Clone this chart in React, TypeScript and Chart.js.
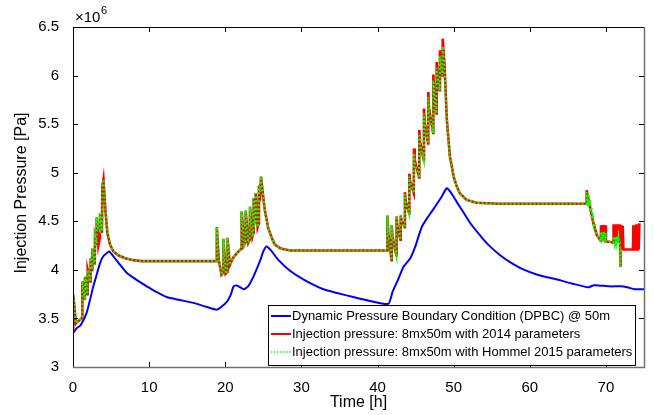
import React, { useEffect, useRef } from "react";
import { Chart, registerables } from "chart.js";

Chart.register(...registerables);

// ---- axis ticks ----
const xTickValues = [0, 10, 20, 30, 40, 50, 60, 70];
const yTickValues = [3, 3.5, 4, 4.5, 5, 5.5, 6, 6.5];

// ---- legend labels ----
const seriesLabels = [
  "Dynamic Pressure Boundary Condition (DPBC) @ 50m",
  "Injection pressure: 8mx50m with 2014 parameters",
  "Injection pressure: 8mx50m with Hommel 2015 parameters",
];

// ---- DPBC (blue) ----
const dpbcTime = [0, 0.5, 1.0, 1.8, 2.67, 3.0, 3.55, 3.98, 4.4, 4.73, 5.2, 6.0, 7.05, 8.3, 9.7, 11.0, 12.3, 14.0, 15.8, 17.5, 18.9, 19.5, 20.2, 20.7, 21.1, 21.5, 22.0, 22.4, 23.0, 23.7, 24.6, 25.0, 25.4, 26.0, 27.0, 28.5, 30.3, 32.9, 34.8, 36.8, 39.0, 41.4, 42.0, 42.7, 43.4, 44.3, 45.0, 45.8, 46.5, 47.3, 48.4, 49.1, 49.6, 50.4, 51.3, 52.2, 53.3, 54.4, 56.1, 57.4, 59, 61, 63.6, 65.5, 67.7, 68.3, 69.0, 70.5, 71.9, 72.8, 73.8, 75];
const dpbcPressure = [3.35, 3.40, 3.43, 3.56, 3.83, 3.92, 4.07, 4.14, 4.17, 4.19, 4.15, 4.07, 3.97, 3.90, 3.83, 3.77, 3.72, 3.69, 3.66, 3.62, 3.59, 3.62, 3.67, 3.74, 3.83, 3.84, 3.82, 3.80, 3.83, 3.93, 4.10, 4.19, 4.24, 4.20, 4.10, 3.99, 3.90, 3.80, 3.76, 3.72, 3.68, 3.65, 3.78, 3.90, 4.03, 4.12, 4.25, 4.44, 4.53, 4.62, 4.75, 4.84, 4.80, 4.70, 4.59, 4.48, 4.37, 4.27, 4.15, 4.08, 4.01, 3.95, 3.90, 3.86, 3.82, 3.84, 3.84, 3.83, 3.83, 3.82, 3.80, 3.80];

// ---- injection 2014 (red) ----
const red1Time = [0, 0.04, 0.39, 0.5, 1.14, 1.2, 1.23, 1.56, 1.58, 1.9, 1.93, 2.28, 2.32, 2.51, 2.54, 2.86, 2.89, 3.09, 3.11, 3.33, 3.53, 3.55, 3.8, 3.85, 4.0, 4.25, 4.51, 4.86, 5.3, 5.95, 6.83, 7.93, 9.0, 18.87];
const red1Pressure = [3.38, 3.74, 3.45, 3.46, 3.50, 3.52, 3.88, 3.69, 3.93, 3.75, 4.00, 3.88, 4.12, 4.00, 4.22, 4.05, 4.34, 4.27, 4.54, 4.25, 4.33, 4.58, 4.38, 4.85, 4.93, 4.62, 4.38, 4.26, 4.19, 4.15, 4.12, 4.10, 4.09, 4.09];
const ramp2Time = [18.89, 19.15, 19.5, 19.73, 19.76, 20.05, 20.27, 20.3, 20.6, 21.0, 21.5, 22.12, 22.15, 22.5, 22.65, 22.68, 23.03, 23.22, 23.25, 23.56, 23.7, 23.73, 23.9, 23.97, 24.0, 24.25, 24.4, 24.43, 24.6, 24.7, 25.0, 25.22, 25.65, 26.1, 26.5, 27.3, 28.5, 41.27];
const ramp2Pressure = [4.44, 4.10, 3.95, 3.97, 4.32, 3.96, 3.98, 4.33, 4.05, 4.12, 4.17, 4.22, 4.60, 4.26, 4.29, 4.61, 4.28, 4.31, 4.65, 4.34, 4.38, 4.74, 4.50, 4.52, 4.79, 4.44, 4.48, 4.87, 4.80, 4.96, 4.74, 4.60, 4.43, 4.33, 4.26, 4.22, 4.20, 4.20];
const ramp3Time = [41.3, 41.4, 41.84, 41.86, 41.96, 42.47, 42.5, 42.6, 43.01, 43.04, 43.14, 43.57, 43.6, 43.7, 44.15, 44.18, 44.28, 44.76, 44.79, 44.89, 45.46, 45.49, 45.59, 46.07, 46.1, 46.2, 46.64, 46.67, 46.77, 47.30, 47.33, 47.43, 47.74, 47.77, 47.87, 48.17, 48.2, 48.3, 48.53, 48.56, 48.8, 49.1, 49.5, 50.0, 50.4, 50.8, 51.7, 53.0, 56.0, 67.45];
const red3Pressure = [4.56, 4.38, 4.10, 4.46, 4.34, 4.15, 4.55, 4.45, 4.31, 4.56, 4.51, 4.44, 4.80, 4.71, 4.58, 4.99, 4.91, 4.79, 5.25, 5.13, 4.95, 5.44, 5.32, 5.13, 5.66, 5.52, 5.30, 5.83, 5.66, 5.41, 6.01, 5.85, 5.61, 6.14, 6.02, 5.85, 6.26, 6.16, 6.00, 6.38, 6.10, 5.55, 5.17, 4.96, 4.86, 4.79, 4.72, 4.69, 4.68, 4.68];
const red4Time = [67.47, 67.83, 68.13, 68.35, 68.79, 69.22, 69.3, 69.35, 69.45, 69.55, 69.65, 69.75, 69.85, 69.95, 70.0, 70.5, 70.95, 71.0, 71.1, 71.2, 71.3, 71.4, 71.5, 71.6, 71.7, 71.8, 71.85, 71.9, 71.95, 72.0, 72.1, 72.2, 72.3, 73.0, 73.55, 73.6, 73.7, 73.8, 73.9, 74.0, 74.1, 74.2, 74.3, 74.4];
const red4Pressure = [4.82, 4.68, 4.56, 4.48, 4.36, 4.31, 4.30, 4.46, 4.30, 4.46, 4.30, 4.46, 4.29, 4.46, 4.29, 4.29, 4.28, 4.47, 4.28, 4.47, 4.28, 4.47, 4.28, 4.47, 4.28, 4.47, 4.28, 4.03, 4.22, 4.46, 4.21, 4.45, 4.21, 4.21, 4.21, 4.46, 4.21, 4.46, 4.21, 4.47, 4.21, 4.47, 4.21, 4.48];

// ---- injection Hommel 2015 (green) ----
const green1Pressure = [3.38, 3.74, 3.45, 3.46, 3.50, 3.52, 3.88, 3.69, 3.93, 3.75, 4.00, 3.88, 4.12, 4.00, 4.22, 4.05, 4.34, 4.27, 4.54, 4.42, 4.40, 4.58, 4.40, 4.85, 4.93, 4.62, 4.40, 4.27, 4.19, 4.15, 4.12, 4.10, 4.09, 4.09];
const green3Pressure = [4.56, 4.38, 4.10, 4.46, 4.34, 4.15, 4.55, 4.45, 4.31, 4.56, 4.51, 4.44, 4.78, 4.70, 4.58, 4.96, 4.89, 4.79, 5.20, 5.10, 4.95, 5.40, 5.29, 5.13, 5.61, 5.49, 5.30, 5.78, 5.63, 5.41, 5.95, 5.81, 5.61, 6.08, 5.99, 5.85, 6.20, 6.12, 6.00, 6.30, 6.06, 5.55, 5.17, 4.96, 4.86, 4.79, 4.72, 4.69, 4.68, 4.68];
const green4Time = [67.47, 67.6, 67.7, 67.8, 67.9, 68.0, 68.1, 68.2, 68.3, 68.4, 68.5, 68.79, 69.22, 69.3, 69.35, 69.45, 69.55, 69.65, 69.75, 69.85, 69.95, 70.0, 70.5, 71.0, 71.05, 71.15, 71.25, 71.35, 71.45, 71.55, 71.65, 71.75, 71.8, 71.9, 71.95, 72.0, 72.2];
const green4Pressure = [4.80, 4.72, 4.78, 4.66, 4.72, 4.60, 4.64, 4.53, 4.57, 4.46, 4.48, 4.36, 4.31, 4.30, 4.39, 4.30, 4.39, 4.30, 4.39, 4.29, 4.38, 4.29, 4.29, 4.28, 4.34, 4.28, 4.34, 4.28, 4.34, 4.28, 4.34, 4.28, 4.28, 4.03, 4.20, 4.21, 4.21];

const FONT = "'Liberation Sans', Arial, Helvetica, sans-serif";
const BLUE = "#0000ff";
const RED = "#ff0000";
const GREEN = "#00ff00";

const toPoints = (t: number[], p: number[]) => t.map((x, i) => ({ x, y: p[i] }));

const framePlugin = {
  id: "matlabFrame",
  afterDraw(chart: any) {
    const { ctx, chartArea: ca, scales } = chart;
    const xs = scales.x;
    const ys = scales.y;
    const L = Math.round(ca.left), R = Math.round(ca.right), T = Math.round(ca.top), B = Math.round(ca.bottom);
    ctx.save();
    ctx.strokeStyle = "#000";
    ctx.lineWidth = 1;
    ctx.beginPath();
    for (const v of yTickValues) {
      const y = Math.round(ys.getPixelForValue(v)) + 0.5;
      ctx.moveTo(L, y); ctx.lineTo(L + 5, y);
      ctx.moveTo(R, y); ctx.lineTo(R - 5, y);
    }
    for (const v of xTickValues) {
      const x = Math.round(xs.getPixelForValue(v)) + 0.5;
      ctx.moveTo(x, B); ctx.lineTo(x, B - 5);
      ctx.moveTo(x, T); ctx.lineTo(x, T + 5);
    }
    ctx.stroke();
    ctx.beginPath();
    ctx.moveTo(L + 0.5, B);
    ctx.lineTo(L + 0.5, T + 0.5);
    ctx.lineTo(R, T + 0.5);
    ctx.stroke();
    ctx.strokeStyle = "#707070";
    ctx.lineWidth = 1.5;
    ctx.beginPath();
    ctx.moveTo(L, B + 0.5);
    ctx.lineTo(R + 0.5, B + 0.5);
    ctx.lineTo(R + 0.5, T);
    ctx.stroke();

    ctx.fillStyle = "#000";
    ctx.textAlign = "left";
    ctx.textBaseline = "alphabetic";
    ctx.font = `15px ${FONT}`;
    ctx.fillText("\u00d710", L + 2, T - 5);
    const w = ctx.measureText("\u00d710").width;
    ctx.font = `11px ${FONT}`;
    ctx.fillText("6", L + 2 + w + 0.5, T - 13);

    ctx.font = `16px ${FONT}`;
    ctx.textAlign = "center";
    ctx.textBaseline = "middle";
    ctx.fillText("Time [h]", (L + R) / 2, 403);
    ctx.save();
    ctx.translate(22, 193);
    ctx.rotate(-Math.PI / 2);
    ctx.fillText("Injection Pressure [Pa]", 0, 0);
    ctx.restore();

    const lx = 268, ly = 305, lw = 367, lh = 60;
    ctx.fillStyle = "#fff";
    ctx.fillRect(lx, ly, lw, lh);
    ctx.strokeStyle = "#000";
    ctx.lineWidth = 1;
    ctx.strokeRect(lx + 0.5, ly + 0.5, lw, lh);
    const colors = [BLUE, RED, GREEN];
    ctx.font = `13px ${FONT}`;
    ctx.textAlign = "left";
    ctx.textBaseline = "middle";
    seriesLabels.forEach((label, i) => {
      const y = ly + 11 + i * 18;
      ctx.strokeStyle = colors[i];
      ctx.lineWidth = i === 2 ? 1.5 : 2;
      ctx.setLineDash(i === 2 ? [1.5, 1.5] : []);
      ctx.beginPath();
      ctx.moveTo(lx + 3, y);
      ctx.lineTo(lx + 23, y);
      ctx.stroke();
      ctx.setLineDash([]);
      ctx.fillStyle = "#000";
      ctx.fillText(label, lx + 24, y + 0.5);
    });
    ctx.restore();
  },
};

export default function App() {
  const canvasRef = useRef<HTMLCanvasElement | null>(null);

  useEffect(() => {
    const canvas = canvasRef.current;
    if (!canvas) return;
    const redTime = [...red1Time, ...ramp2Time, ...ramp3Time, ...red4Time];
    const redPressure = [...red1Pressure, ...ramp2Pressure, ...red3Pressure, ...red4Pressure];
    const greenTime = [...red1Time, ...ramp2Time, ...ramp3Time, ...green4Time];
    const greenPressure = [...green1Pressure, ...ramp2Pressure, ...green3Pressure, ...green4Pressure];

    const chart = new Chart(canvas, {
      type: "line",
      data: {
        datasets: [
          {
            label: seriesLabels[0],
            data: toPoints(dpbcTime, dpbcPressure),
            borderColor: BLUE,
            borderWidth: 2,
            pointRadius: 0,
            tension: 0.2,
            order: 2,
          },
          {
            label: seriesLabels[1],
            data: toPoints(redTime, redPressure),
            borderColor: RED,
            borderWidth: 2.6,
            pointRadius: 0,
            tension: 0,
            order: 1,
          },
          {
            label: seriesLabels[2],
            data: toPoints(greenTime, greenPressure),
            borderColor: GREEN,
            borderWidth: 2.2,
            borderDash: [2, 2],
            pointRadius: 0,
            tension: 0,
            order: 0,
          },
        ],
      },
      options: {
        animation: false,
        responsive: false,
        maintainAspectRatio: false,
        layout: { padding: { top: 27, right: 10, left: 0, bottom: 0 } },
        plugins: {
          legend: { display: false },
          tooltip: { enabled: false },
          title: { display: false },
        },
        scales: {
          x: {
            type: "linear",
            min: 0,
            max: 75,
            grid: { display: false },
            border: { display: false },
            afterBuildTicks: (s: any) => {
              s.ticks = xTickValues.map((v) => ({ value: v }));
            },
            afterFit: (s: any) => {
              s.height = 48;
            },
            ticks: {
              color: "#000",
              padding: 4,
              maxRotation: 0,
              font: { family: FONT, size: 15 },
              callback: (v: any) => String(v),
            },
          },
          y: {
            type: "linear",
            min: 3,
            max: 6.5,
            grid: { display: false },
            border: { display: false },
            afterBuildTicks: (s: any) => {
              s.ticks = yTickValues.map((v) => ({ value: v }));
            },
            afterFit: (s: any) => {
              s.width = 73;
            },
            ticks: {
              color: "#000",
              padding: 6,
              font: { family: FONT, size: 15 },
              callback: (v: any) => String(v),
            },
          },
        },
      },
      plugins: [framePlugin],
    });
    return () => chart.destroy();
  }, []);

  return (
    <div style={{ position: "fixed", left: 0, top: 0, width: 654, height: 415, background: "#fff" }}>
      <canvas ref={canvasRef} width={654} height={415} style={{ display: "block", width: 654, height: 415 }} />
    </div>
  );
}
